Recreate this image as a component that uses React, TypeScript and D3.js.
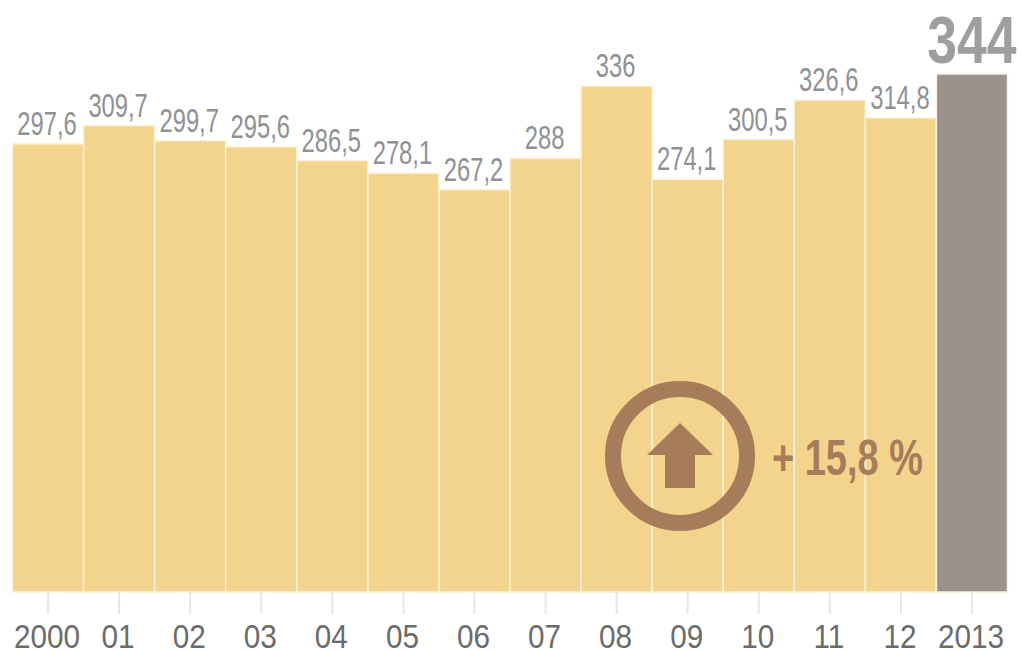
import React, { useEffect, useRef } from 'react';
import * as d3 from 'd3';

const years = ['2000', '01', '02', '03', '04', '05', '06', '07', '08', '09', '10', '11', '12', '2013'];
const values = [297.6, 309.7, 299.7, 295.6, 286.5, 278.1, 267.2, 288, 336, 274.1, 300.5, 326.6, 314.8, 344];
const valueLabels = ['297,6', '309,7', '299,7', '295,6', '286,5', '278,1', '267,2', '288', '336', '274,1', '300,5', '326,6', '314,8', '344'];
const changeLabel = '+ 15,8 %';

const font = '"Liberation Sans", sans-serif';

const App = () => {
    const svgRef = useRef<SVGSVGElement | null>(null);

    useEffect(() => {
        const width = 1021;
        const height = 650;
        const baseline = 592;

        const svg = d3.select(svgRef.current);
        svg.selectAll('*').remove();
        svg.attr('width', width).attr('height', height);

        const x = d3.scaleBand().domain(years).range([12.5, 1007.5]).padding(0);
        const y = d3.scaleLinear().domain([0, 344]).range([baseline, 74]);
        const last = years[years.length - 1];

        // bars
        svg.append('g')
            .selectAll('rect')
            .data(years)
            .enter()
            .append('rect')
            .attr('x', d => x(d)!)
            .attr('y', (d, i) => y(values[i]))
            .attr('width', x.bandwidth())
            .attr('height', (d, i) => baseline - y(values[i]))
            .attr('fill', d => (d === last ? '#99938b' : '#f3d48c'))
            .attr('stroke', '#fbf1d8')
            .attr('stroke-width', 1.5);

        // x-axis
        const axis = svg.append('g')
            .attr('transform', `translate(0,${baseline})`)
            .call(d3.axisBottom(x).tickSize(22).tickPadding(10.5));
        axis.select('.domain').remove();
        axis.selectAll('line').attr('stroke', '#e6e6e6').attr('stroke-width', 2);
        // no condensed face installed, so squeeze the glyphs
        axis.selectAll('text')
            .attr('fill', '#6b6b6b')
            .attr('transform', 'translate(-1,0) scale(0.9,1)')
            .style('font-family', font)
            .style('font-size', '33px');

        // value labels
        svg.append('g')
            .selectAll('text')
            .data(years)
            .enter()
            .append('text')
            .attr('transform', (d, i) => {
                const cx = x(d)! + x.bandwidth() / 2;
                return d === last
                    ? `translate(${cx},${y(values[i]) - 11}) scale(0.81,1)`
                    : `translate(${cx - 1},${y(values[i]) - 9}) scale(0.72,1)`;
            })
            .attr('text-anchor', 'middle')
            .attr('fill', d => (d === last ? '#9d9ea0' : '#8f9193'))
            .style('font-family', font)
            .style('font-size', d => (d === last ? '66px' : '33px'))
            .style('font-weight', d => (d === last ? 'bold' : 'normal'))
            .text((d, i) => valueLabels[i]);

        // change badge
        const badge = svg.append('g').attr('transform', 'translate(680,456)');
        badge.append('circle')
            .attr('r', 67)
            .attr('fill', 'none')
            .attr('stroke', '#a67c5b')
            .attr('stroke-width', 16);
        badge.append('path')
            .attr('d', 'M0,-33L33,-1L15,-1L15,32L-15,32L-15,-1L-33,-1Z')
            .attr('fill', '#a67c5b');

        svg.append('text')
            .attr('transform', 'translate(772,475) scale(0.76,1)')
            .attr('fill', '#a67c5b')
            .style('font-family', font)
            .style('font-size', '50px')
            .style('font-weight', 'bold')
            .text(changeLabel);
    }, []);

    return <svg ref={svgRef} style={{ position: 'absolute', left: 0, top: 0 }}></svg>;
};

export default App;
